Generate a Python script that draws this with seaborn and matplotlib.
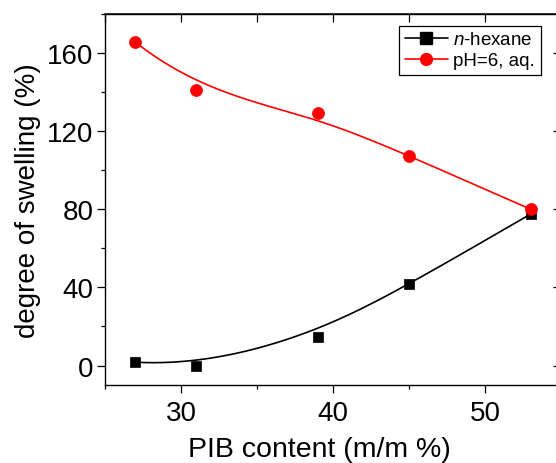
"""Degree of swelling vs PIB content, Origin-like look with B-spline connectors."""
import numpy as np
import matplotlib
matplotlib.use("Agg")
import matplotlib.pyplot as plt
from matplotlib.lines import Line2D
from matplotlib.ticker import MultipleLocator
import seaborn as sns

# data
pib = [27, 31, 39, 45, 53]
hexane = [1.7, 0.0, 14.5, 41.5, 77.5]
water = [165.5, 140.8, 129.0, 107.2, 80.0]
labels = ["$\\it{n}$-hexane", "pH=6, aq."]


def bspline(xs, ys, n=300, k=3):
    # clamped cubic B-spline through the data as control points (Origin "B-Spline" connect)
    P = np.column_stack([xs, ys]).astype(float)
    m = len(P)
    knots = np.r_[[0.0] * k, np.linspace(0, 1, m - k + 1), [1.0] * k]
    t = np.linspace(0, 1 - 1e-9, n)

    def N(i, p):
        if p == 0:
            return ((knots[i] <= t) & (t < knots[i + 1])).astype(float)
        a = 0.0
        d1 = knots[i + p] - knots[i]
        if d1 > 0:
            a = (t - knots[i]) / d1 * N(i, p - 1)
        b = 0.0
        d2 = knots[i + p + 1] - knots[i + 1]
        if d2 > 0:
            b = (knots[i + p + 1] - t) / d2 * N(i + 1, p - 1)
        return a + b

    B = np.column_stack([N(i, k) for i in range(m)])
    C = B @ P
    return C[:, 0], C[:, 1]


sns.set_theme(style="ticks")
plt.rcParams["font.family"] = ["Liberation Sans", "DejaVu Sans"]
plt.rcParams["mathtext.fontset"] = "custom"
plt.rcParams["mathtext.it"] = "Liberation Sans:italic"
plt.rcParams["mathtext.rm"] = "Liberation Sans"
plt.rcParams["text.color"] = "black"
plt.rcParams["axes.labelcolor"] = "black"

fig = plt.figure(figsize=(5.56, 4.64), dpi=100)
ax = fig.add_axes([0.189, 0.168, 0.82, 0.8])

hx, hy = bspline(pib, hexane)
wx, wy = bspline(pib, water)
ax.plot(hx, hy, color="black", lw=1.2, zorder=2)
ax.plot(wx, wy, color="red", lw=1.2, zorder=2)
sns.scatterplot(x=pib, y=hexane, marker="s", color="black", s=62,
                edgecolor="black", linewidth=0.5, ax=ax, zorder=3)
sns.scatterplot(x=pib, y=water, marker="o", color="red", s=75,
                edgecolor="red", linewidth=0.5, ax=ax, zorder=4)

ax.set_xlim(25, 55)
ax.set_ylim(-10, 180)
ax.xaxis.set_minor_locator(MultipleLocator(5))
ax.yaxis.set_minor_locator(MultipleLocator(20))
ax.set_xticks([30, 40, 50])
ax.set_yticks([0, 40, 80, 120, 160])

for s in ax.spines.values():
    s.set_visible(True)
    s.set_linewidth(1.0)
    s.set_color("black")

ax.tick_params(which="major", direction="out", length=5.5, width=0.9,
               labelsize=20, colors="black", pad=3)
ax.tick_params(axis="x", which="major", pad=5)
ax.tick_params(which="minor", direction="out", length=3, width=0.9, colors="black")

# mirrored inward ticks on top and right, like Origin
top = ax.secondary_xaxis("top")
top.xaxis.set_major_locator(MultipleLocator(5))
top.tick_params(direction="in", length=5.5, width=0.9, labeltop=False, colors="black")
right = ax.secondary_yaxis("right")
right.yaxis.set_major_locator(MultipleLocator(40))
right.tick_params(direction="in", length=5.5, width=0.9, labelright=False, colors="black")

ax.set_xlabel("PIB content (m/m %)", fontsize=20.5)
ax.xaxis.set_label_coords(0.471, -0.138, transform=ax.transAxes)
ax.xaxis.label.set_va("top")
ax.set_ylabel("degree of swelling (%)", fontsize=20, labelpad=4)

handles = [
    Line2D([], [], color="black", lw=1.2, marker="s", markersize=8),
    Line2D([], [], color="red", lw=1.2, marker="o", markersize=8.5),
]
leg = ax.legend(handles, labels, loc="upper left",
                bbox_to_anchor=(399 / 556, 1 - 26.7 / 464),
                bbox_transform=fig.transFigure,
                fontsize=13.5, frameon=True, fancybox=False, edgecolor="black",
                handlelength=2.3, handletextpad=0.3, borderpad=0.3,
                labelspacing=0.2, borderaxespad=0)
leg.get_frame().set_linewidth(0.9)
leg.get_frame().set_alpha(1)

fig.savefig("out.png", dpi=100)
